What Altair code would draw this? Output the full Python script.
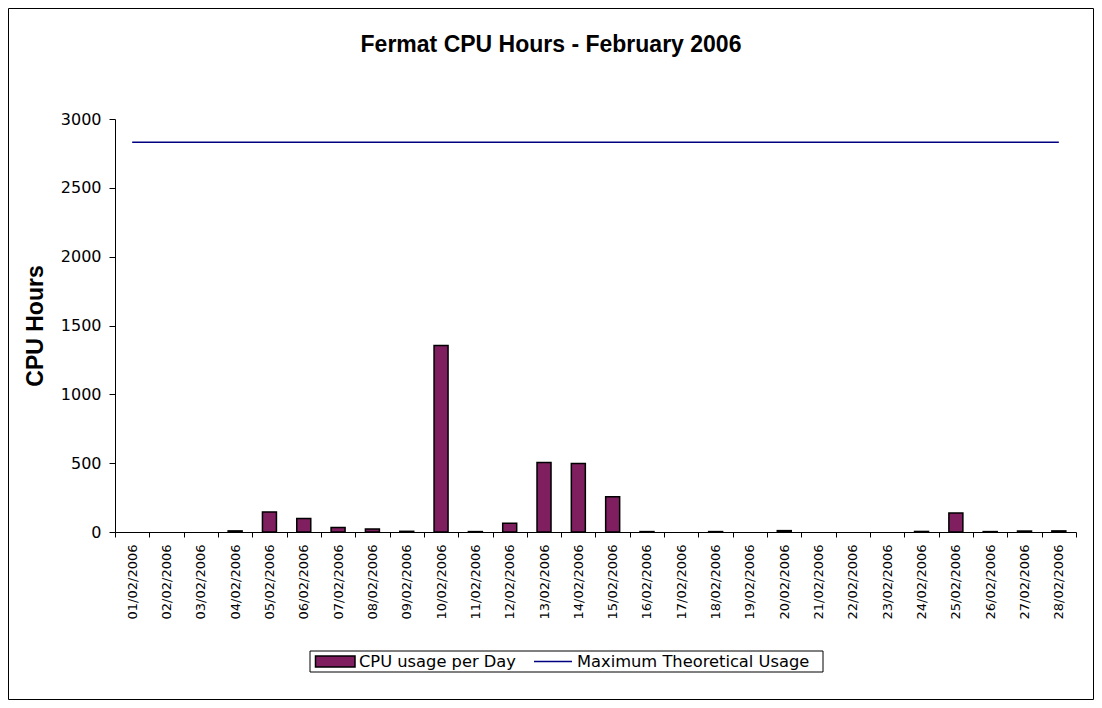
import altair as alt
import pandas as pd

days = [f"{d:02d}/02/2006" for d in range(1, 29)]
cpu_hours = [0, 0, 0, 8, 146, 98, 33, 22, 5, 1355, 3, 63, 505, 498, 256, 3,
             0, 3, 0, 10, 0, 0, 0, 4, 138, 3, 7, 8]
max_usage = [2832] * 28
y_ticks = [0, 500, 1000, 1500, 2000, 2500, 3000]
title_text = "Fermat CPU Hours - February 2006"
y_title = "CPU Hours"
bar_label = "CPU usage per Day"
line_label = "Maximum Theoretical Usage"

df = pd.DataFrame({"day": days, "cpu": cpu_hours, "max": max_usage})
one = pd.DataFrame({"k": [0]})

FONT = "Liberation Sans"
WFONT = "DejaVu Sans"
PURPLE = "#7F1F5F"
NAVY = "#000080"

xscale = alt.Scale(domain=days, paddingInner=0, paddingOuter=0)
yscale = alt.Scale(domain=[0, 3000], nice=False)

bars = alt.Chart(df).transform_filter("datum.cpu > 0").mark_bar(
    size=14, color=PURPLE, stroke="black", strokeWidth=1.5).encode(
    x=alt.X("day:N", scale=xscale,
            axis=alt.Axis(title=None, labelAngle=-90, tickBand="extent",
                          tickSize=5, labelPadding=7, domainColor="black",
                          tickColor="black", labelColor="black",
                          labelFont=WFONT, labelFontSize=13)),
    y=alt.Y("cpu:Q", scale=yscale,
            axis=alt.Axis(values=y_ticks, format="d", title=None, grid=False,
                          tickSize=6, labelPadding=8, domainColor="black",
                          tickColor="black", labelColor="black",
                          labelFont=WFONT, labelFontSize=16))
)

line = alt.Chart(df).mark_line(color=NAVY, strokeWidth=1.5).encode(
    x=alt.X("day:N", scale=xscale),
    y=alt.Y("max:Q", scale=yscale)
)

border = alt.Chart(one).mark_rect(fill=None, stroke="black", strokeWidth=1).encode(
    x=alt.value(-106.5), x2=alt.value(978.5), y=alt.value(-110.5), y2=alt.value(580.5))

title = alt.Chart(one).mark_text(font=FONT, fontSize=23, fontWeight="bold",
                                 color="black", align="center",
                                 baseline="middle").encode(
    x=alt.value(436), y=alt.value(-74), text=alt.value(title_text))

ytitle = alt.Chart(one).mark_text(font=FONT, fontSize=23, fontWeight="bold",
                                  color="black", align="center", angle=270,
                                  baseline="middle").encode(
    x=alt.value(-79), y=alt.value(207), text=alt.value(y_title))

leg_box = alt.Chart(one).mark_rect(fill="white", stroke="black", strokeWidth=1).encode(
    x=alt.value(195), x2=alt.value(708), y=alt.value(532), y2=alt.value(553))
leg_sw = alt.Chart(one).mark_rect(fill=PURPLE, stroke="black", strokeWidth=1.5).encode(
    x=alt.value(200.5), x2=alt.value(240), y=alt.value(537), y2=alt.value(548))
leg_t1 = alt.Chart(one).mark_text(font=WFONT, fontSize=16.3, color="black",
                                  align="left", baseline="middle").encode(
    x=alt.value(244), y=alt.value(543), text=alt.value(bar_label))
leg_ln = alt.Chart(one).mark_rule(color=NAVY, strokeWidth=1.5).encode(
    x=alt.value(419), x2=alt.value(457), y=alt.value(542.5))
leg_t2 = alt.Chart(one).mark_text(font=WFONT, fontSize=16.3, color="black",
                                  align="left", baseline="middle").encode(
    x=alt.value(462), y=alt.value(543), text=alt.value(line_label))

chart = alt.layer(bars, line, border, title, ytitle, leg_box, leg_sw, leg_t1,
                  leg_ln, leg_t2).properties(
    width=961, height=413,
    autosize=alt.AutoSizeParams(type="none"),
    padding={"left": 107, "top": 111, "right": 18, "bottom": 168},
    background="white"
).configure_view(stroke=None)

chart.save("out.html", embed_options={"renderer": "svg", "actions": False})
